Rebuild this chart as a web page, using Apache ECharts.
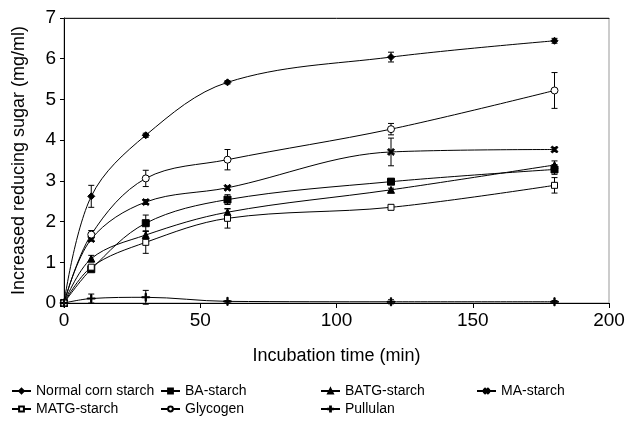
<!DOCTYPE html>
<html>
<head>
<meta charset="utf-8">
<script src="https://cdn.jsdelivr.net/npm/echarts@6/dist/echarts.min.js"></script>
<style>
  html, body { margin: 0; padding: 0; background: #fff; }
  #chart { width: 628px; height: 424px; }
</style>
</head>
<body>
<div id="chart"></div>
<script>
  // incubation times (min)
  var times = [0, 10, 30, 60, 120, 180];

  // increased reducing sugar (mg/ml) and error bar half-widths
  var normalCorn = [0, 2.62, 4.12, 5.42, 6.04, 6.44];
  var normalCornErr = [0, 0.27, 0.05, 0.04, 0.12, 0.06];
  var baStarch = [0, 0.83, 1.96, 2.54, 2.98, 3.28];
  var baStarchErr = [0, 0.05, 0.2, 0.12, 0.07, 0.12];
  var batgStarch = [0, 1.09, 1.67, 2.23, 2.78, 3.39];
  var batgStarchErr = [0, 0.08, 0.1, 0.08, 0.04, 0.1];
  var maStarch = [0, 1.57, 2.48, 2.83, 3.71, 3.77];
  var maStarchErr = [0, 0.05, 0.06, 0.04, 0.34, 0.05];
  var matgStarch = [0, 0.88, 1.49, 2.08, 2.35, 2.89];
  var matgStarchErr = [0, 0.05, 0.27, 0.24, 0.03, 0.19];
  var glycogen = [0, 1.68, 3.06, 3.52, 4.27, 5.22];
  var glycogenErr = [0, 0.1, 0.2, 0.25, 0.14, 0.44];
  var pullulan = [0, 0.11, 0.14, 0.04, 0.03, 0.03];
  var pullulanErr = [0, 0.11, 0.17, 0.02, 0.05, 0.03];

  var xTicks = [0, 50, 100, 150, 200];
  var yTicks = [0, 1, 2, 3, 4, 5, 6, 7];

  var font = 'Liberation Sans, Arial, sans-serif';
  var crossPath = 'path://M2,0L5,3L8,0L10,2L7,5L10,8L8,10L5,7L2,10L0,8L3,5L0,2Z';
  var plusPath = 'path://M4.2,0H5.8V4.4H10V5.6H5.8V10H4.2V5.6H0V4.4H4.2Z';

  var groups = [
    {name: 'Normal corn starch', values: normalCorn, err: normalCornErr, symbol: 'diamond', size: 7, fill: '#000'},
    {name: 'BA-starch', values: baStarch, err: baStarchErr, symbol: 'rect', size: 7, fill: '#000'},
    {name: 'BATG-starch', values: batgStarch, err: batgStarchErr, symbol: 'triangle', size: 7, fill: '#000'},
    {name: 'MA-starch', values: maStarch, err: maStarchErr, symbol: crossPath, size: 7, fill: '#000'},
    {name: 'MATG-starch', values: matgStarch, err: matgStarchErr, symbol: 'rect', size: 6, fill: '#fff'},
    {name: 'Glycogen', values: glycogen, err: glycogenErr, symbol: 'circle', size: 7, fill: '#fff'},
    {name: 'Pullulan', values: pullulan, err: pullulanErr, symbol: plusPath, size: 8, fill: '#000'}
  ];

  // legend spots, as laid out in the figure
  var legendSpots = [
    [11, 384], [160, 384], [320, 384], [476, 384],
    [11, 402], [160, 402], [320, 402]
  ];

  function errRenderItem(params, api) {
    var x = api.value(0);
    var top = api.coord([x, api.value(2)]);
    var bot = api.coord([x, api.value(1)]);
    var cap = 3;
    var st = {stroke: '#000', lineWidth: 1};
    return {
      type: 'group',
      children: [
        {type: 'line', shape: {x1: top[0], y1: top[1], x2: bot[0], y2: bot[1]}, style: st},
        {type: 'line', shape: {x1: top[0] - cap, y1: top[1], x2: top[0] + cap, y2: top[1]}, style: st},
        {type: 'line', shape: {x1: bot[0] - cap, y1: bot[1], x2: bot[0] + cap, y2: bot[1]}, style: st}
      ]
    };
  }

  var series = [];
  var legends = [];
  groups.forEach(function(g, i) {
    var pts = [];
    var errs = [];
    times.forEach(function(t, j) {
      pts.push([t, g.values[j]]);
      if (g.err[j] > 0) {
        errs.push([t, g.values[j] - g.err[j], g.values[j] + g.err[j]]);
      }
    });
    series.push({
      name: g.name + ' error',
      type: 'custom',
      renderItem: errRenderItem,
      data: errs,
      z: 1,
      silent: true
    });
    series.push({
      name: g.name,
      type: 'line',
      data: pts,
      smooth: 0.35,
      symbol: g.symbol,
      symbolSize: g.size,
      showAllSymbol: true,
      lineStyle: {color: '#000', width: 1},
      itemStyle: {color: g.fill, borderColor: '#000', borderWidth: 1},
      z: 3
    });
    legends.push({
      data: [g.name],
      left: legendSpots[i][0],
      top: legendSpots[i][1],
      padding: 0,
      itemWidth: 19,
      itemHeight: 6,
      itemGap: 0,
      textStyle: {fontFamily: font, fontSize: 14, color: '#000'},
      selectedMode: false
    });
  });

  var myChart = echarts.init(document.getElementById('chart'));
  var option = {
    backgroundColor: '#fff',
    animation: false,
    textStyle: {fontFamily: font},
    legend: legends,
    grid: {
      left: 64,
      right: 19,
      top: 18,
      bottom: 121,
      show: true,
      borderColor: '#999',
      borderWidth: 1
    },
    xAxis: [
      {
        type: 'value',
        min: xTicks[0],
        max: xTicks[xTicks.length - 1],
        interval: 50,
        name: 'Incubation time (min)',
        nameLocation: 'middle',
        nameGap: 44,
        nameTextStyle: {fontFamily: font, fontSize: 18, color: '#000'},
        axisLine: {lineStyle: {color: '#000', width: 1}},
        axisTick: {show: true, length: 5, lineStyle: {color: '#000'}},
        axisLabel: {fontFamily: font, fontSize: 19, color: '#000', margin: 8},
        splitLine: {show: false}
      },
      {
        type: 'value',
        position: 'top',
        min: xTicks[0],
        max: xTicks[xTicks.length - 1],
        axisLine: {show: true, lineStyle: {color: '#222', width: 1}},
        axisTick: {show: false},
        axisLabel: {show: false},
        splitLine: {show: false}
      }
    ],
    yAxis: {
      type: 'value',
      min: yTicks[0],
      max: yTicks[yTicks.length - 1],
      interval: 1,
      name: 'Increased reducing sugar (mg/ml)',
      nameLocation: 'middle',
      nameGap: 36,
      nameTextStyle: {fontFamily: font, fontSize: 18, color: '#000'},
      axisLine: {show: true, lineStyle: {color: '#000', width: 1}},
      axisTick: {show: true, length: 4, lineStyle: {color: '#000'}},
      axisLabel: {fontFamily: font, fontSize: 19, color: '#000', margin: 8},
      splitLine: {show: false}
    },
    series: series
  };
  myChart.setOption(option);
</script>
</body>
</html>
